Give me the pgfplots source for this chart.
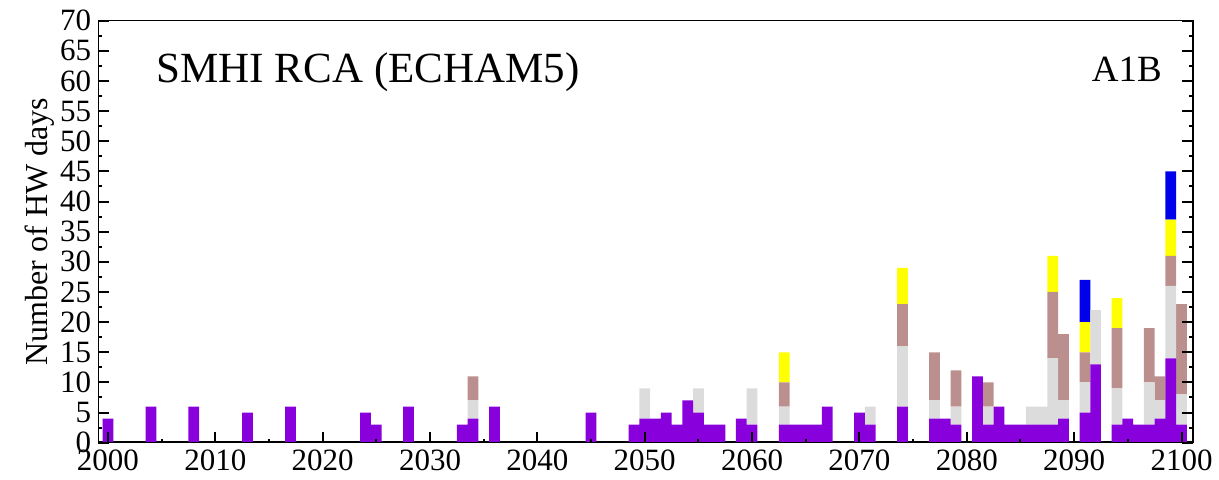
\documentclass[border=0pt]{standalone}
\usepackage{fontspec}
\setmainfont{Liberation Serif}
\usepackage{pgfplots}
\usepackage{pgfplotstable}
\pgfplotsset{compat=1.18}

\definecolor{hwpurple}{RGB}{136,0,220}
\definecolor{hwgray}{RGB}{220,220,220}
\definecolor{hwbrown}{RGB}{188,143,143}
\definecolor{hwyellow}{RGB}{255,255,0}
\definecolor{hwblue}{RGB}{0,0,235}

% heat-wave days per year, stacked segments (purple, gray, brown, yellow, blue)
\pgfplotstableread{
year p  g  b  y  bl
2000 4  0  0  0  0
2004 6  0  0  0  0
2008 6  0  0  0  0
2013 5  0  0  0  0
2017 6  0  0  0  0
2024 5  0  0  0  0
2025 3  0  0  0  0
2028 6  0  0  0  0
2033 3  0  0  0  0
2034 4  3  4  0  0
2036 6  0  0  0  0
2045 5  0  0  0  0
2049 3  0  0  0  0
2050 4  5  0  0  0
2051 4  0  0  0  0
2052 5  0  0  0  0
2053 3  0  0  0  0
2054 7  0  0  0  0
2055 5  4  0  0  0
2056 3  0  0  0  0
2057 3  0  0  0  0
2059 4  0  0  0  0
2060 3  6  0  0  0
2063 3  3  4  5  0
2064 3  0  0  0  0
2065 3  0  0  0  0
2066 3  0  0  0  0
2067 6  0  0  0  0
2070 5  0  0  0  0
2071 3  3  0  0  0
2074 6  10 7  6  0
2077 4  3  8  0  0
2078 4  0  0  0  0
2079 3  3  6  0  0
2081 11 0  0  0  0
2082 3  3  4  0  0
2083 6  0  0  0  0
2084 3  0  0  0  0
2085 3  0  0  0  0
2086 3  3  0  0  0
2087 3  3  0  0  0
2088 3  11 11 6  0
2089 4  3  11 0  0
2091 5  5  5  5  7
2092 13 9  0  0  0
2094 3  6  10 5  0
2095 4  0  0  0  0
2096 3  0  0  0  0
2097 3  7  9  0  0
2098 4  3  4  0  0
2099 14 12 5  6  8
2100 3  5  15 0  0
}\hwdata

\begin{document}
\begin{tikzpicture}
\path[use as bounding box] (-49.15pt,-18.65pt) rectangle (560.35pt,221.35pt);
\begin{axis}[
  at={(0,0)}, anchor=south west,
  scale only axis, width=547.5pt, height=211pt,
  xmin=1999.1, xmax=2101.1, ymin=0, ymax=70,
  ybar stacked, bar width=1,
  xtick={2000,2010,...,2100}, ytick={0,5,...,70},
  minor x tick num=1, minor y tick num=1,
  xtick pos=left, ytick pos=both,
  tick align=inside,
  major tick length=5.5pt, minor tick length=2pt,
  every tick/.style={black, line width=1pt},
  axis on top,
  axis line style={line width=0.5pt},
  tick label style={font=\fontsize{15.5}{18}\selectfont},
  /pgf/number format/assume math mode=true,
  /pgf/number format/1000 sep={},
  ylabel={Number of HW days},
  ylabel style={font=\fontsize{16}{19}\selectfont, at={(axis description cs:-0.0532,0.5)}, anchor=center},
]
\addplot[fill=hwpurple, draw=none] table[x=year, y=p] {\hwdata};
\addplot[fill=hwgray, draw=none] table[x=year, y=g] {\hwdata};
\addplot[fill=hwbrown, draw=none] table[x=year, y=b] {\hwdata};
\addplot[fill=hwyellow, draw=none] table[x=year, y=y] {\hwdata};
\addplot[fill=hwblue, draw=none] table[x=year, y=bl] {\hwdata};
\draw[line width=1.2pt, line cap=rect] (rel axis cs:0,1) -- (rel axis cs:0,0) -- (rel axis cs:1,0) -- (rel axis cs:1,1);
\node[anchor=base west, inner sep=0pt, font=\fontsize{21.5}{25}\selectfont] at (axis cs:2004.5,59.7) {SMHI RCA (ECHAM5)};
\node[anchor=base east, inner sep=0pt, font=\fontsize{18.5}{22}\selectfont] at (axis cs:2098.2,59.9) {A1B};
\end{axis}
\end{tikzpicture}
\end{document}
